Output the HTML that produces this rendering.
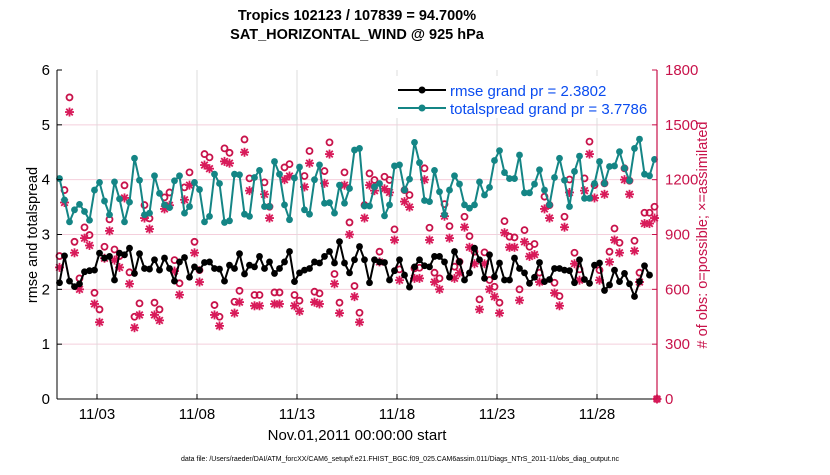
<!DOCTYPE html>
<html><head><meta charset="utf-8"><style>
body{margin:0;background:#fff;width:830px;height:470px;overflow:hidden}
svg text{font-family:"Liberation Sans",sans-serif}
</style></head><body>
<svg id="chart" width="830" height="470" viewBox="0 0 830 470" xmlns="http://www.w3.org/2000/svg">
<g id="grid"></g>
<g id="obs"></g>
<g id="lines"></g>
<g id="axes"></g>
<text x="357" y="20" text-anchor="middle" font-size="14.5" font-weight="bold">Tropics 102123 / 107839 = 94.700%</text>
<text x="357" y="39" text-anchor="middle" font-size="14.5" font-weight="bold">SAT_HORIZONTAL_WIND @ 925 hPa</text>
<text transform="translate(37,235) rotate(-90)" text-anchor="middle" font-size="14.5">rmse and totalspread</text>
<text transform="translate(707,235) rotate(-90)" text-anchor="middle" font-size="14.5" fill="#c8124a"># of obs: o=possible; ×=assimilated</text>
<text x="357" y="440" text-anchor="middle" font-size="15">Nov.01,2011 00:00:00 start</text>
<text x="400" y="461" text-anchor="middle" font-size="7">data file: /Users/raeder/DAI/ATM_forcXX/CAM6_setup/f.e21.FHIST_BGC.f09_025.CAM6assim.011/Diags_NTrS_2011-11/obs_diag_output.nc</text>
<g>
<rect x="392" y="76" width="262" height="42" fill="#fff"/>
<line x1="398" y1="90" x2="446" y2="90" stroke="#000" stroke-width="2"/><circle cx="422" cy="90" r="3.5" fill="#000"/>
<text x="450" y="96" font-size="15" fill="#0a4cf0">rmse grand pr = 2.3802</text>
<line x1="398" y1="108" x2="446" y2="108" stroke="#148585" stroke-width="2"/><circle cx="422" cy="108" r="3.5" fill="#148585"/>
<text x="450" y="114" font-size="15" fill="#0a4cf0">totalspread grand pr = 3.7786</text>
</g>
</svg>
<script>
const rmse=[2.12,2.61,2.15,2.05,2.10,2.32,2.34,2.35,2.66,2.57,2.60,2.17,2.66,2.63,2.75,2.29,2.65,2.38,2.37,2.54,2.35,2.57,2.38,2.15,2.50,2.58,2.22,2.41,2.35,2.49,2.50,
2.38,2.37,2.15,2.44,2.38,2.65,2.28,2.44,2.41,2.60,2.38,2.50,2.29,2.38,2.50,2.69,2.14,2.30,2.35,2.38,2.50,2.48,2.60,2.69,2.48,2.87,2.48,2.30,2.54,
2.78,2.54,2.12,2.54,2.50,2.49,2.17,2.34,2.54,2.26,2.04,2.41,2.54,2.43,2.41,2.60,2.60,2.50,2.22,2.69,2.50,2.17,2.30,2.75,2.54,2.20,2.63,2.23,2.48,2.17,
2.17,2.57,2.38,2.30,2.11,2.22,2.49,2.14,2.18,2.38,2.38,2.35,2.34,2.12,2.54,2.18,2.11,2.44,2.48,1.98,2.08,2.35,2.14,2.29,2.10,1.87,2.14,2.43,2.26];
const spread=[4.02,3.63,3.23,3.45,3.55,3.42,3.26,3.81,3.95,3.61,3.36,3.96,3.65,3.23,3.59,4.39,3.99,3.36,3.39,4.07,3.75,3.54,3.49,3.98,4.07,3.39,3.51,3.95,3.82,3.23,3.33,
4.10,3.93,3.22,3.25,4.10,4.09,3.37,3.33,4.04,4.17,3.51,3.51,4.33,4.10,3.54,3.27,4.03,4.23,3.45,3.37,4.00,4.27,3.57,3.58,3.39,3.90,3.57,3.84,4.54,4.57,
3.52,3.52,3.87,3.93,3.34,3.54,4.25,4.27,3.81,4.01,4.68,4.31,3.62,3.60,4.17,3.78,3.36,3.81,4.07,3.92,3.54,3.48,3.54,3.96,3.72,3.86,4.35,4.53,4.13,4.02,
4.02,4.45,3.76,3.76,3.92,4.18,3.81,3.54,4.04,4.39,3.99,3.51,4.15,4.43,3.66,3.66,3.93,4.33,3.93,4.24,4.25,4.51,4.21,3.98,4.57,4.74,4.10,4.07,4.37];
const possible=[782,1143,1650,860,660,939,897,581,490,833,983,818,782,1169,693,450,523,1061,988,527,490,1103,1130,760,633,1158,1240,860,705,1340,1322,
514,450,1371,1347,532,592,1420,1207,569,569,1185,1052,583,583,1267,1285,569,538,1220,1357,587,578,1247,1404,684,527,1240,966,618,472,
1061,1234,1198,806,1216,1198,928,709,1143,1116,715,718,1262,937,691,660,1066,946,724,751,997,891,806,545,802,651,614,527,973,888,
884,600,924,833,848,691,1107,1061,636,563,997,1201,800,709,1207,1408,1170,705,1180,806,933,855,1262,1194,866,691,1019,1019,1052,0];
const assimilated=[720,1075,1570,800,600,880,840,520,420,770,920,760,720,1100,630,390,460,990,930,460,430,1040,1060,700,570,1090,1170,800,640,1280,1260,
460,400,1300,1290,470,530,1350,1140,510,510,1120,990,520,520,1200,1220,510,480,1160,1290,530,520,1180,1340,630,470,1170,900,560,420,
990,1170,1140,750,1150,1130,870,650,1080,1050,660,660,1200,870,640,600,1000,880,660,690,940,830,740,490,740,600,560,470,910,830,
830,540,860,780,790,640,1040,990,580,510,940,1130,740,650,1140,1340,1100,650,1120,750,870,800,1200,1120,810,640,960,960,990,0];
const xTickLabels=["11/03","11/08","11/13","11/18","11/23","11/28"];
const xTickDays=[2,7,12,17,22,27];
const yTicks=[0,1,2,3,4,5,6];
const y2Ticks=[0,300,600,900,1200,1500,1800];

const NS="http://www.w3.org/2000/svg";
const X0=57,X1=657,Y0=399,Y1=70;
const xDay=d=>X0+(d/30)*(X1-X0);
const yL=v=>Y0-(v/6)*(Y0-Y1);
const yR=v=>Y0-(v/1800)*(Y0-Y1);
function mk(tag,attrs,parent){const e=document.createElementNS(NS,tag);for(const k in attrs)e.setAttribute(k,attrs[k]);parent.appendChild(e);return e;}
const grid=document.getElementById('grid'),axes=document.getElementById('axes'),obs=document.getElementById('obs'),lines=document.getElementById('lines');
const CR="#c8124a";
y2Ticks.forEach(v=>{if(v>0&&v<1800){const l=mk('line',{x1:X0,x2:X1,y1:yR(v),y2:yR(v),stroke:'#f4cfdc','stroke-width':1},grid);

}});
xTickDays.forEach((d,k)=>{const l=mk('line',{x1:xDay(d),x2:xDay(d),y1:Y0,y2:Y1,stroke:'#dcdcdc','stroke-width':1},grid);


mk('line',{x1:xDay(d),x2:xDay(d),y1:Y0,y2:Y0-5,stroke:'#000'},axes);
const t=mk('text',{x:xDay(d),y:419,'text-anchor':'middle','font-size':15},axes);t.textContent=xTickLabels[k];

});
mk('line',{x1:X0,x2:X0,y1:Y1,y2:Y0,stroke:'#000','stroke-width':1},axes);
mk('line',{x1:X0,x2:X1,y1:Y0,y2:Y0,stroke:'#000','stroke-width':1},axes);
mk('line',{x1:X1,x2:X1,y1:Y1,y2:Y0,stroke:CR,'stroke-width':1.2},axes);
yTicks.forEach(v=>{mk('line',{x1:X0,x2:X0+5,y1:yL(v),y2:yL(v),stroke:'#000'},axes);
const t=mk('text',{x:X0-7,y:yL(v)+5,'text-anchor':'end','font-size':15},axes);t.textContent=v;

});
y2Ticks.forEach(v=>{mk('line',{x1:X1,x2:X1-5,y1:yR(v),y2:yR(v),stroke:CR},axes);
const t=mk('text',{x:X1+8,y:yR(v)+5,'text-anchor':'start','font-size':15,fill:CR},axes);t.textContent=v;

});
const px=i=>59.5+i*5*((X1-X0)/600);
possible.forEach((v,i)=>{const c=mk('circle',{cx:Math.min(px(i),X1),cy:yR(v),r:3,fill:'none',stroke:CR,'stroke-width':1.8},obs);

});
assimilated.forEach((v,i)=>{const g=mk('g',{transform:`translate(${Math.min(px(i),X1)},${yR(v)})`,stroke:'#d81b5a','stroke-width':1.8},obs);


[[-4.5,0,4.5,0],[0,-4.5,0,4.5],[-3.3,-3.3,3.3,3.3],[-3.3,3.3,3.3,-3.3]].forEach(s=>mk('line',{x1:s[0],y1:s[1],x2:s[2],y2:s[3]},g));});
function series(arr,color,name){const pts=arr.map((v,i)=>px(i)+','+yL(v)).join(' ');
const p=mk('polyline',{points:pts,fill:'none',stroke:color,'stroke-width':2,'stroke-linejoin':'round'},lines);


arr.forEach((v,i)=>{const c=mk('circle',{cx:px(i),cy:yL(v),r:3.4,fill:color},lines);

});}
series(spread,'#148585','totalspread');
series(rmse,'#000','rmse');
</script>
</body></html>
